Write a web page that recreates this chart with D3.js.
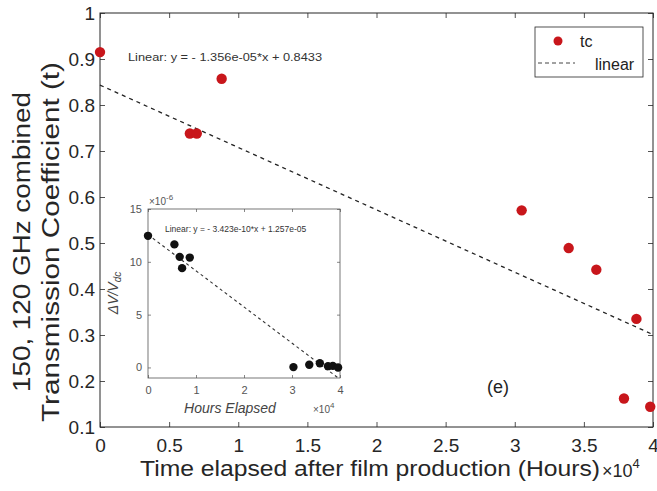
<!DOCTYPE html>
<html>
<head>
<meta charset="utf-8">
<script src="https://cdn.jsdelivr.net/npm/d3@7/dist/d3.min.js"></script>
<style>
  html, body { margin: 0; padding: 0; background: #fff; }
  svg { display: block; font-family: Arial, "Liberation Sans", sans-serif; }
</style>
</head>
<body>
<svg id="chart" width="657" height="491"></svg>
<script>
// Transmission coefficient measurements vs. film age
const hours = [0, 6500, 7000, 8800, 30500, 33900, 35900, 37900, 38800, 39800];
const tc = [0.915, 0.738, 0.738, 0.857, 0.571, 0.489, 0.442, 0.162, 0.335, 0.144];
const fitSlope = -1.356e-05;
const fitIntercept = 0.8433;

const xTicks = [0, 5000, 10000, 15000, 20000, 25000, 30000, 35000, 40000];
const xTickLabels = ["0", "0.5", "1", "1.5", "2", "2.5", "3", "3.5", "4"];
const yTicks = [0.1, 0.2, 0.3, 0.4, 0.5, 0.6, 0.7, 0.8, 0.9, 1];
const yTickLabels = ["0.1", "0.2", "0.3", "0.4", "0.5", "0.6", "0.7", "0.8", "0.9", "1"];

// Inset: relative voltage change (units of 1e-6)
const insetHours = [0, 5500, 6600, 7100, 8700, 30300, 33600, 35800, 37500, 38500, 39600];
const insetDV = [12.46, 11.65, 10.47, 9.4, 10.4, 0.03, 0.25, 0.4, 0.12, 0.15, 0.0];
const insetSlope = -3.423e-10 * 1e6;
const insetIntercept = 1.257e-05 * 1e6;
const insetXTicks = [0, 10000, 20000, 30000, 40000];
const insetXTickLabels = ["0", "1", "2", "3", "4"];
const insetYTicks = [0, 5, 10, 15];

const axisColor = "#262626";
const red = "#c8161b";

const svg = d3.select("#chart");

// ---------- main axes ----------
const x = d3.scaleLinear().domain([0, 40000]).range([100, 653]);
const y = d3.scaleLinear().domain([0.1, 1]).range([427, 13]);

const main = svg.append("g");

function styleAxis(g, fontSize) {
  g.select(".domain").remove();
  g.selectAll(".tick line").attr("stroke", axisColor).attr("stroke-width", 0.8);
  g.selectAll(".tick text").attr("fill", axisColor).attr("font-size", fontSize)
    .attr("font-family", "Arial, 'Liberation Sans', sans-serif");
}

// bottom / top ticks point inward
main.append("g").attr("transform", `translate(0,${y(0.1)})`)
  .call(d3.axisBottom(x).tickValues(xTicks).tickFormat((d, i) => xTickLabels[i]).tickSizeInner(-5).tickSizeOuter(0).tickPadding(12))
  .call(g => styleAxis(g, 19));
main.append("g").attr("transform", `translate(0,${y(1)})`)
  .call(d3.axisTop(x).tickValues(xTicks).tickFormat("").tickSizeInner(-5).tickSizeOuter(0))
  .call(g => styleAxis(g, 19));
main.append("g").attr("transform", `translate(${x(0)},0)`)
  .call(d3.axisLeft(y).tickValues(yTicks).tickFormat((d, i) => yTickLabels[i]).tickSizeInner(-5).tickSizeOuter(0).tickPadding(5))
  .call(g => styleAxis(g, 19));
main.append("g").attr("transform", `translate(${x(40000)},0)`)
  .call(d3.axisRight(y).tickValues(yTicks).tickFormat("").tickSizeInner(-5).tickSizeOuter(0))
  .call(g => styleAxis(g, 19));

// box
main.append("rect")
  .attr("x", x(0)).attr("y", y(1))
  .attr("width", x(40000) - x(0)).attr("height", y(0.1) - y(1))
  .attr("fill", "none").attr("stroke", axisColor).attr("stroke-width", 1);

// linear fit
main.append("line")
  .attr("x1", x(0)).attr("y1", y(fitIntercept))
  .attr("x2", x(40000)).attr("y2", y(fitIntercept + fitSlope * 40000))
  .attr("stroke", "#222").attr("stroke-width", 1.3).attr("stroke-dasharray", "4,4");

// data points
main.selectAll("circle.tc").data(hours).join("circle")
  .attr("class", "tc")
  .attr("cx", d => x(d)).attr("cy", (d, i) => y(tc[i]))
  .attr("r", 5.2).attr("fill", red);

// fit equation
main.append("text").attr("x", 128).attr("y", 61)
  .attr("font-size", 11.5).attr("fill", "#333")
  .attr("textLength", 194).attr("lengthAdjust", "spacingAndGlyphs")
  .text("Linear:  y = - 1.356e-05*x + 0.8433");

// panel label
main.append("text").attr("x", 498).attr("y", 393).attr("text-anchor", "middle")
  .attr("font-size", 18).attr("fill", "#222").text("(e)");

// axis labels
main.append("text").attr("x", 140).attr("y", 476)
  .attr("font-size", 22).attr("fill", axisColor)
  .attr("textLength", 460).attr("lengthAdjust", "spacingAndGlyphs")
  .text("Time elapsed after film production (Hours)");
const mainExp = main.append("text").attr("x", 602).attr("y", 477)
  .attr("font-size", 18).attr("fill", axisColor);
mainExp.append("tspan").text("\u00d710");
mainExp.append("tspan").attr("dy", -9).attr("font-size", 13).text("4");

const ylab = main.append("text").attr("transform", "translate(0,242) rotate(-90)")
  .attr("text-anchor", "middle").attr("font-size", 23).attr("fill", axisColor);
ylab.append("tspan").attr("x", 0).attr("y", 30)
  .attr("textLength", 300).attr("lengthAdjust", "spacingAndGlyphs")
  .text("150, 120 GHz combined");
ylab.append("tspan").attr("x", 0).attr("y", 59)
  .attr("textLength", 360).attr("lengthAdjust", "spacingAndGlyphs")
  .text("Transmission Coefficient (t)");

// legend
const leg = main.append("g");
leg.append("rect").attr("x", 535).attr("y", 27).attr("width", 108).attr("height", 50)
  .attr("fill", "#fff").attr("stroke", axisColor).attr("stroke-width", 0.8);
leg.append("circle").attr("cx", 558).attr("cy", 41).attr("r", 4.5).attr("fill", red);
leg.append("text").attr("x", 580).attr("y", 47).attr("font-size", 16).attr("fill", "#222").text("tc");
leg.append("line").attr("x1", 538).attr("x2", 575).attr("y1", 63).attr("y2", 63)
  .attr("stroke", "#444").attr("stroke-width", 1).attr("stroke-dasharray", "4,3");
leg.append("text").attr("x", 595).attr("y", 70).attr("font-size", 16).attr("fill", "#222").text("linear");

// ---------- inset ----------
const ix = d3.scaleLinear().domain([0, 40000]).range([148, 340]);
const iy = d3.scaleLinear().domain([-1, 15]).range([378, 209]);
const inset = svg.append("g");
const insetColor = "#555";

inset.append("rect").attr("x", ix(0)).attr("y", iy(15))
  .attr("width", ix(40000) - ix(0)).attr("height", iy(-1) - iy(15))
  .attr("fill", "#fff");

function styleInset(g) {
  g.select(".domain").remove();
  g.selectAll(".tick line").attr("stroke", insetColor).attr("stroke-width", 0.7);
  g.selectAll(".tick text").attr("fill", insetColor).attr("font-size", 11)
    .attr("font-family", "Arial, 'Liberation Sans', sans-serif");
}
inset.append("g").attr("transform", `translate(0,${iy(-1)})`)
  .call(d3.axisBottom(ix).tickValues(insetXTicks).tickFormat((d, i) => insetXTickLabels[i]).tickSizeInner(-3).tickSizeOuter(0).tickPadding(8))
  .call(styleInset);
inset.append("g").attr("transform", `translate(0,${iy(15)})`)
  .call(d3.axisTop(ix).tickValues(insetXTicks).tickFormat("").tickSizeInner(-3).tickSizeOuter(0))
  .call(styleInset);
inset.append("g").attr("transform", `translate(${ix(0)},0)`)
  .call(d3.axisLeft(iy).tickValues(insetYTicks).tickSizeInner(-3).tickSizeOuter(0).tickPadding(6))
  .call(styleInset);
inset.append("g").attr("transform", `translate(${ix(40000)},0)`)
  .call(d3.axisRight(iy).tickValues(insetYTicks).tickFormat("").tickSizeInner(-3).tickSizeOuter(0))
  .call(styleInset);

inset.append("rect").attr("x", ix(0)).attr("y", iy(15))
  .attr("width", ix(40000) - ix(0)).attr("height", iy(-1) - iy(15))
  .attr("fill", "none").attr("stroke", insetColor).attr("stroke-width", 0.8);

svg.append("clipPath").attr("id", "insetClip").append("rect")
  .attr("x", ix(0)).attr("y", iy(15))
  .attr("width", ix(40000) - ix(0)).attr("height", iy(-1) - iy(15));

inset.append("line").attr("clip-path", "url(#insetClip)")
  .attr("x1", ix(0)).attr("y1", iy(insetIntercept))
  .attr("x2", ix(40000)).attr("y2", iy(insetIntercept + insetSlope * 40000))
  .attr("stroke", "#333").attr("stroke-width", 1.1).attr("stroke-dasharray", "3,3");

inset.selectAll("circle.dv").data(insetHours).join("circle")
  .attr("class", "dv")
  .attr("cx", d => ix(d)).attr("cy", (d, i) => iy(insetDV[i]))
  .attr("r", 4.2).attr("fill", "#111");

inset.append("text").attr("x", 165).attr("y", 232)
  .attr("font-size", 8.5).attr("fill", "#333")
  .text("Linear:  y = - 3.423e-10*x + 1.257e-05");

const iExpY = inset.append("text").attr("x", 149).attr("y", 205)
  .attr("font-size", 10).attr("fill", insetColor);
iExpY.append("tspan").text("\u00d710");
iExpY.append("tspan").attr("dy", -5).attr("font-size", 8).text("-6");

const iExpX = inset.append("text").attr("x", 313).attr("y", 413)
  .attr("font-size", 10).attr("fill", insetColor);
iExpX.append("tspan").text("\u00d710");
iExpX.append("tspan").attr("dy", -5).attr("font-size", 8).text("4");

inset.append("text").attr("x", 230).attr("y", 413).attr("text-anchor", "middle")
  .attr("font-size", 14).attr("font-style", "italic").attr("fill", "#444")
  .text("Hours Elapsed");

const iyl = inset.append("text").attr("transform", "translate(118,293) rotate(-90)")
  .attr("text-anchor", "middle").attr("font-size", 14).attr("font-style", "italic").attr("fill", "#444");
iyl.append("tspan").text("\u0394V/V");
iyl.append("tspan").attr("dy", 3).attr("font-size", 10).text("dc");
</script>
</body>
</html>
